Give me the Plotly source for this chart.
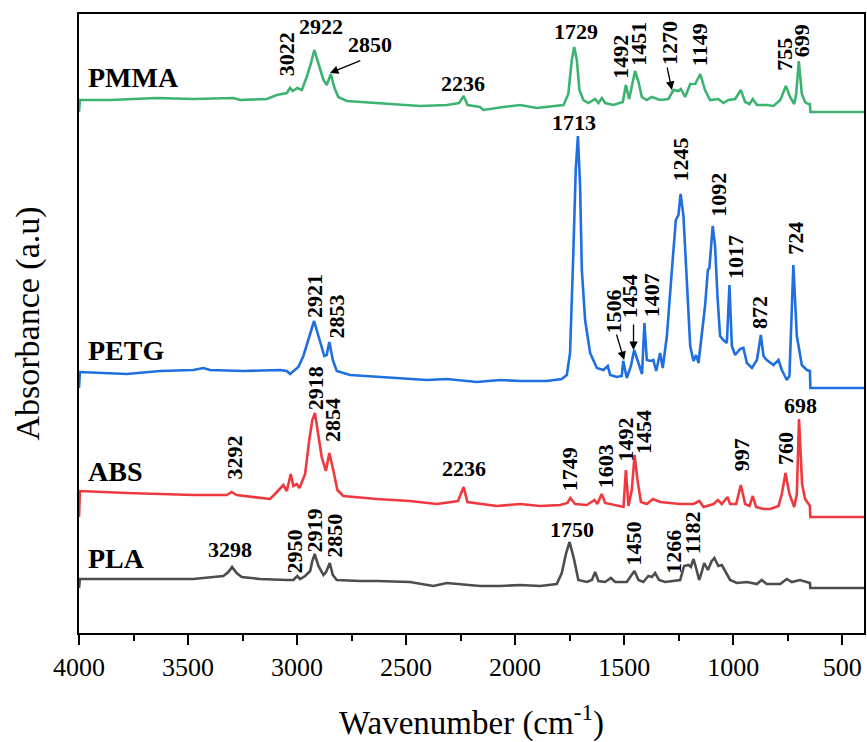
import plotly.graph_objects as go

# ---------------- data ----------------
PMMA_wn = [4000, 3996, 3858, 3644, 3476, 3292, 3261, 3139, 3093, 3047, 3032, 3020, 2999, 2978, 2956, 2937, 2921, 2902, 2879, 2864, 2845, 2830, 2811, 2772, 2634, 2436, 2313, 2257, 2236, 2218, 2161, 2145, 2054, 1977, 1900, 1778, 1756, 1740, 1729, 1717, 1705, 1687, 1664, 1633, 1618, 1602, 1587, 1549, 1506, 1492, 1477, 1465, 1450, 1434, 1419, 1396, 1373, 1335, 1297, 1274, 1251, 1240, 1220, 1197, 1174, 1151, 1129, 1106, 1068, 1045, 1022, 991, 965, 945, 925, 910, 891, 846, 815, 784, 758, 739, 720, 711, 699, 685, 670, 655, 648, 646, 400]
PMMA_ab = [0, 0.12, 0.12, 0.14, 0.13, 0.14, 0.12, 0.13, 0.17, 0.19, 0.24, 0.21, 0.24, 0.22, 0.35, 0.48, 0.62, 0.48, 0.32, 0.27, 0.38, 0.25, 0.15, 0.11, 0.09, 0.06, 0.07, 0.09, 0.16, 0.07, 0.05, 0.02, 0.05, 0.07, 0.04, 0.07, 0.18, 0.52, 0.65, 0.52, 0.22, 0.12, 0.09, 0.13, 0.09, 0.14, 0.09, 0.07, 0.10, 0.27, 0.13, 0.25, 0.41, 0.30, 0.15, 0.12, 0.15, 0.12, 0.13, 0.22, 0.21, 0.23, 0.15, 0.28, 0.28, 0.38, 0.22, 0.12, 0.13, 0.09, 0.12, 0.13, 0.22, 0.10, 0.08, 0.13, 0.07, 0.07, 0.06, 0.12, 0.26, 0.15, 0.08, 0.18, 0.51, 0.18, 0.10, 0.08, 0.08, 0, 0]

PETG_wn = [4000, 3996, 3781, 3628, 3476, 3430, 3399, 3246, 3078, 3047, 3032, 3017, 2994, 2971, 2948, 2922, 2902, 2875, 2864, 2852, 2836, 2818, 2757, 2558, 2405, 2313, 2176, 2069, 1977, 1855, 1786, 1763, 1748, 1733, 1722, 1712, 1702, 1694, 1679, 1656, 1625, 1595, 1575, 1564, 1534, 1511, 1504, 1488, 1469, 1454, 1430, 1418, 1407, 1396, 1378, 1366, 1353, 1335, 1323, 1304, 1281, 1263, 1251, 1241, 1228, 1212, 1197, 1182, 1170, 1159, 1144, 1129, 1116, 1109, 1094, 1083, 1072, 1060, 1045, 1029, 1017, 1006, 991, 968, 953, 937, 914, 891, 873, 861, 846, 815, 792, 777, 754, 742, 724, 708, 685, 662, 648, 646, 400]
PETG_ab = [0, 0.16, 0.14, 0.17, 0.18, 0.20, 0.18, 0.17, 0.18, 0.17, 0.14, 0.17, 0.21, 0.32, 0.48, 0.67, 0.52, 0.32, 0.33, 0.46, 0.28, 0.17, 0.13, 0.10, 0.08, 0.09, 0.06, 0.08, 0.07, 0.07, 0.09, 0.13, 0.35, 1.35, 2.18, 2.52, 2.02, 1.18, 0.68, 0.35, 0.20, 0.18, 0.22, 0.13, 0.11, 0.12, 0.27, 0.10, 0.22, 0.38, 0.22, 0.14, 0.65, 0.28, 0.27, 0.28, 0.17, 0.35, 0.20, 0.52, 1.18, 1.68, 1.73, 1.94, 1.72, 1.02, 0.42, 0.27, 0.33, 0.25, 0.52, 0.82, 1.18, 1.20, 1.62, 1.42, 0.92, 0.52, 0.48, 0.45, 1.03, 0.42, 0.33, 0.39, 0.40, 0.25, 0.20, 0.28, 0.53, 0.32, 0.28, 0.23, 0.28, 0.18, 0.08, 0.12, 1.23, 0.52, 0.23, 0.18, 0.17, 0, 0]

ABS_wn = [4000, 3996, 3781, 3628, 3476, 3322, 3300, 3277, 3124, 3101, 3078, 3063, 3047, 3029, 3017, 3001, 2989, 2963, 2944, 2930, 2918, 2905, 2887, 2868, 2852, 2834, 2815, 2788, 2634, 2482, 2359, 2262, 2236, 2219, 2161, 2084, 1977, 1885, 1794, 1760, 1747, 1725, 1671, 1636, 1623, 1603, 1587, 1518, 1503, 1492, 1480, 1465, 1452, 1439, 1423, 1396, 1368, 1335, 1243, 1182, 1155, 1136, 1090, 1070, 1052, 1026, 1014, 986, 965, 945, 925, 910, 895, 861, 830, 792, 777, 760, 742, 720, 708, 698, 684, 670, 650, 648, 646, 400]
ABS_ab = [0, 0.26, 0.24, 0.23, 0.22, 0.22, 0.25, 0.22, 0.18, 0.23, 0.28, 0.32, 0.26, 0.43, 0.31, 0.33, 0.29, 0.43, 0.77, 0.97, 1.04, 0.87, 0.60, 0.46, 0.64, 0.47, 0.27, 0.21, 0.18, 0.16, 0.13, 0.16, 0.30, 0.15, 0.13, 0.11, 0.13, 0.11, 0.12, 0.14, 0.19, 0.13, 0.12, 0.17, 0.13, 0.23, 0.14, 0.11, 0.10, 0.47, 0.11, 0.27, 0.62, 0.37, 0.15, 0.13, 0.18, 0.15, 0.13, 0.13, 0.16, 0.10, 0.13, 0.17, 0.13, 0.20, 0.13, 0.13, 0.32, 0.13, 0.11, 0.21, 0.10, 0.08, 0.08, 0.11, 0.23, 0.44, 0.23, 0.10, 0.23, 0.98, 0.33, 0.18, 0.12, 0.11, 0, 0]

PLA_wn = [4000, 3996, 3781, 3628, 3476, 3338, 3315, 3298, 3277, 3254, 3170, 3047, 3017, 2999, 2986, 2963, 2940, 2930, 2919, 2902, 2879, 2867, 2850, 2836, 2818, 2711, 2634, 2482, 2375, 2313, 2161, 2069, 1977, 1885, 1809, 1786, 1766, 1750, 1729, 1710, 1671, 1648, 1633, 1618, 1587, 1561, 1541, 1488, 1469, 1453, 1434, 1412, 1389, 1373, 1358, 1340, 1312, 1274, 1243, 1225, 1205, 1194, 1182, 1170, 1156, 1144, 1133, 1116, 1098, 1086, 1068, 1052, 1037, 1014, 983, 937, 891, 869, 846, 784, 754, 731, 693, 662, 648, 646, 400]
PLA_ab = [0, 0.09, 0.09, 0.09, 0.09, 0.12, 0.16, 0.21, 0.15, 0.11, 0.09, 0.08, 0.08, 0.12, 0.09, 0.12, 0.17, 0.27, 0.34, 0.22, 0.13, 0.16, 0.25, 0.13, 0.08, 0.07, 0.07, 0.06, 0.02, 0.05, 0.02, 0.02, 0.03, 0.02, 0.04, 0.15, 0.35, 0.46, 0.28, 0.08, 0.06, 0.08, 0.16, 0.07, 0.06, 0.10, 0.06, 0.06, 0.12, 0.17, 0.08, 0.06, 0.12, 0.11, 0.15, 0.08, 0.06, 0.07, 0.08, 0.22, 0.23, 0.21, 0.29, 0.20, 0.08, 0.16, 0.25, 0.18, 0.27, 0.30, 0.22, 0.23, 0.17, 0.08, 0.05, 0.06, 0.04, 0.08, 0.04, 0.04, 0.09, 0.06, 0.08, 0.06, 0.05, 0, 0]

series_names = ["PMMA", "PETG", "ABS", "PLA"]
series_wn = [PMMA_wn, PETG_wn, ABS_wn, PLA_wn]
series_ab = [PMMA_ab, PETG_ab, ABS_ab, PLA_ab]
series_offset = [5.21, 2.45, 1.16, 0.45]
series_color = ["#3cb371", "#1f6fe0", "#f0393f", "#4d4d4d"]

for w, a in zip(series_wn, series_ab):
    assert len(w) == len(a), (len(w), len(a))

# peak labels: text, wavenumber position, y position, rotated?
label_text = ["3022", "2922", "2850", "2236", "1729", "1492", "1451", "1270", "1149", "755", "699",
              "1713", "2921", "2853", "1506", "1454", "1407", "1245", "1092", "1017", "872", "724",
              "3292", "2918", "2854", "2236", "1749", "1603", "1492", "1454", "997", "760", "698",
              "3298", "2950", "2919", "2850", "1750", "1450", "1266", "1182"]
label_x = [3050, 2892, 2665, 2239, 1723, 1518, 1438, 1294, 1156, 766, 688,
           1729, 2922, 2821, 1553, 1477, 1376, 1246, 1071, 989, 879, 718,
           3289, 2917, 2837, 2234, 1750, 1587, 1498, 1413, 963, 762, 693,
           3307, 3014, 2922, 2830, 1739, 1459, 1275, 1188]
label_y = [5.79, 6.07, 5.885, 5.50, 6.015, 5.765, 5.89, 5.90, 5.88, 5.785, 5.92,
           5.11, 3.37, 3.165, 3.21, 3.37, 3.38, 4.73, 4.38, 3.755, 3.205, 3.95,
           1.755, 2.45, 2.125, 1.65, 1.635, 1.67, 1.93, 2.01, 1.78, 1.84, 2.28,
           0.835, 0.815, 1.025, 0.975, 1.035, 0.895, 0.815, 1.00]
label_rot = [1, 0, 0, 0, 0, 1, 1, 1, 1, 1, 1,
             0, 1, 1, 1, 1, 1, 1, 1, 1, 1, 1,
             1, 1, 1, 0, 1, 1, 1, 1, 1, 1, 0,
             0, 1, 1, 1, 0, 1, 1, 1]
name_y = [5.555, 2.83, 1.62, 0.75]

# arrows: head (x, y) and tail (x, y)
arrow_head_x = [2849, 1281, 1500, 1457]
arrow_head_y = [5.60, 5.43, 2.73, 2.83]
arrow_tail_x = [2703, 1304, 1537, 1457]
arrow_tail_y = [5.73, 5.67, 3.00, 3.10]

FONT = "Liberation Serif, Times New Roman, serif"

fig = go.Figure()
for name, w, a, off, col in zip(series_names, series_wn, series_ab, series_offset, series_color):
    fig.add_trace(go.Scatter(x=w, y=[v + off for v in a], mode="lines", name=name,
                             line=dict(color=col, width=2.6), showlegend=False))

annotations = []
for name, y in zip(series_names, name_y):
    annotations.append(dict(x=3968, y=y, xref="x", yref="y", text=name, showarrow=False,
                            xanchor="left", yanchor="middle",
                            font=dict(family=FONT, size=28, color="black", weight="bold")))
for t, x, y, r in zip(label_text, label_x, label_y, label_rot):
    annotations.append(dict(x=x, y=y, xref="x", yref="y", text=t, showarrow=False,
                            textangle=-90 if r else 0, xanchor="center", yanchor="middle",
                            font=dict(family=FONT, size=22, color="black", weight="bold")))
for hx, hy, tx, ty in zip(arrow_head_x, arrow_head_y, arrow_tail_x, arrow_tail_y):
    annotations.append(dict(x=hx, y=hy, xref="x", yref="y", ax=tx, ay=ty, axref="x", ayref="y",
                            text="", showarrow=True, arrowhead=2, arrowsize=1.3, arrowwidth=1.3,
                            arrowcolor="black"))

fig.update_layout(
    width=867, height=742,
    margin=dict(l=79, r=3, t=14, b=109, autoexpand=False),
    paper_bgcolor="white", plot_bgcolor="white",
    font=dict(family=FONT, color="black"),
    annotations=annotations,
    xaxis=dict(range=[4000, 400], autorange=False, tickmode="linear", tick0=500, dtick=500,
               ticks="outside", ticklen=10, tickwidth=1.6, tickcolor="black",
               minor=dict(ticks="outside", ticklen=6, tickwidth=1.6, tickcolor="black", dtick=250, tick0=250),
               showline=True, linecolor="black", linewidth=1.8, mirror=True,
               showgrid=False, zeroline=False, automargin=False,
               tickfont=dict(family=FONT, size=26, color="black"),
               title=dict(text="Wavenumber (cm<sup>-1</sup>)", font=dict(family=FONT, size=33, color="black"),
                          standoff=52)),
    yaxis=dict(range=[0, 6.19], autorange=False, showticklabels=False, ticks="",
               showline=True, linecolor="black", linewidth=1.8, mirror=True,
               showgrid=False, zeroline=False, automargin=False,
               title=dict(text="Absorbance (a.u)", font=dict(family=FONT, size=34, color="black"),
                          standoff=27)),
)

fig.write_html("out.html", config={"displayModeBar": False},
               post_script="document.body.style.margin='0';")
